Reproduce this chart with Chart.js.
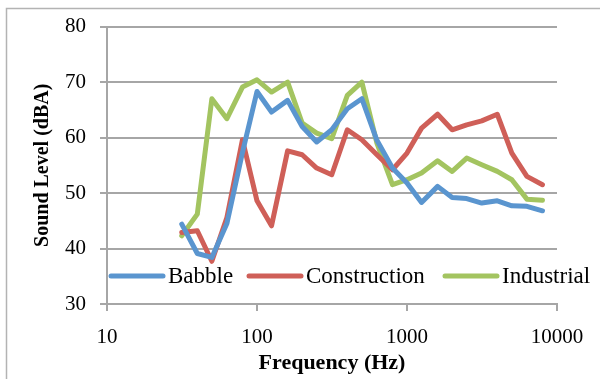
<!DOCTYPE html>
<html>
<head>
<meta charset="utf-8">
<script src="https://cdn.jsdelivr.net/npm/chart.js@4.4.0/dist/chart.umd.min.js"></script>
<style>
  html, body { margin: 0; padding: 0; background: #fff; }
  #wrap { position: relative; width: 600px; height: 379px; }
</style>
</head>
<body>
<div id="wrap"><canvas id="soundChart" width="600" height="379"></canvas></div>
<script>
// 1/3 octave band centre frequencies (Hz)
const frequencies = [31.5, 40, 50, 63, 80, 100, 125, 160, 200, 250, 315, 400, 500,
  630, 800, 1000, 1250, 1600, 2000, 2500, 3150, 4000, 5000, 6300, 8000];

const babble = [44.4, 39.1, 38.4, 44.5, 57.3, 68.3, 64.6, 66.7, 62.0, 59.2, 61.4, 65.2, 67.0,
  59.5, 54.5, 51.8, 48.3, 51.2, 49.2, 49.0, 48.2, 48.6, 47.7, 47.6, 46.8];
const construction = [42.9, 43.2, 37.7, 45.6, 59.6, 48.6, 44.1, 57.6, 56.9, 54.5, 53.3, 61.4, 59.6,
  56.9, 54.2, 57.2, 61.7, 64.2, 61.4, 62.3, 63.0, 64.2, 57.2, 53.0, 51.5];
const industrial = [42.3, 46.2, 67.0, 63.4, 69.1, 70.4, 68.2, 70.0, 62.6, 60.8, 59.8, 67.6, 70.0,
  59.0, 51.5, 52.4, 53.6, 55.8, 53.9, 56.3, 55.1, 53.9, 52.4, 48.9, 48.7];

const seriesNames = ['Babble', 'Construction', 'Industrial'];
const xTickValues = [10, 100, 1000, 10000];

const colors = ['#5a95cf', '#cf5f58', '#a3c460'];
const gridColor = '#a6a6a6';
const serif = '"Liberation Serif", "Times New Roman", serif';

function toPoints(values) {
  return frequencies.map((f, i) => ({ x: f, y: values[i] }));
}

// frame around the figure (only top & left edges visible)
const framePlugin = {
  id: 'frame',
  beforeDraw(chart) {
    const ctx = chart.ctx;
    ctx.save();
    ctx.strokeStyle = '#b3b3b3';
    ctx.lineWidth = 1.5;
    ctx.beginPath();
    ctx.moveTo(6.5, chart.height + 2);
    ctx.lineTo(6.5, 8.5);
    ctx.lineTo(chart.width + 2, 8.5);
    ctx.stroke();
    ctx.restore();
  }
};

// legend drawn inside the plot area along the bottom
const innerLegend = {
  id: 'innerLegend',
  afterDatasetsDraw(chart) {
    const ctx = chart.ctx;
    const area = chart.chartArea;
    const offsets = [2, 140, 336];
    const y = area.bottom - 28;
    ctx.save();
    ctx.font = '23px ' + serif;
    ctx.textBaseline = 'middle';
    chart.data.datasets.forEach((ds, i) => {
      const x0 = area.left + offsets[i];
      ctx.strokeStyle = ds.borderColor;
      ctx.lineWidth = 5;
      ctx.lineCap = 'round';
      ctx.beginPath();
      ctx.moveTo(x0 + 2, y);
      ctx.lineTo(x0 + 54, y);
      ctx.stroke();
      ctx.fillStyle = '#000';
      ctx.fillText(ds.label, x0 + 59, y + 1);
    });
    ctx.restore();
  }
};

new Chart(document.getElementById('soundChart'), {
  type: 'line',
  data: {
    datasets: [
      { label: seriesNames[0], data: toPoints(babble), borderColor: colors[0] },
      { label: seriesNames[1], data: toPoints(construction), borderColor: colors[1] },
      { label: seriesNames[2], data: toPoints(industrial), borderColor: colors[2] }
    ]
  },
  options: {
    responsive: false,
    animation: false,
    layout: { padding: { left: 0, top: 24, right: 43, bottom: 0 } },
    elements: {
      line: { borderWidth: 5, tension: 0, borderJoinStyle: 'round', borderCapStyle: 'round', fill: false },
      point: { radius: 0, hoverRadius: 0 }
    },
    scales: {
      x: {
        type: 'logarithmic',
        min: 10,
        max: 10000,
        afterBuildTicks: (scale) => { scale.ticks = xTickValues.map(v => ({ value: v })); },
        afterFit: (scale) => { scale.height = 75; },
        grid: { drawOnChartArea: false, drawTicks: true, tickLength: 7, color: gridColor, lineWidth: 2 },
        border: { display: true, color: gridColor, width: 2 },
        ticks: {
          color: '#000',
          padding: 14,
          maxRotation: 0,
          autoSkip: false,
          font: { family: serif, size: 21 },
          callback: (v) => String(v)
        },
        title: {
          display: true,
          text: 'Frequency (Hz)',
          color: '#000',
          padding: { top: 0, bottom: 2 },
          font: { family: serif, size: 22, weight: 'bold' }
        }
      },
      y: {
        min: 30,
        max: 80,
        afterFit: (scale) => { scale.width = 107; },
        grid: { color: gridColor, lineWidth: 2, tickLength: 7 },
        border: { display: true, color: gridColor, width: 2 },
        ticks: {
          stepSize: 10,
          color: '#000',
          padding: 14,
          font: { family: serif, size: 21 }
        },
        title: {
          display: true,
          text: 'Sound Level (dBA)',
          color: '#000',
          padding: { top: 31, bottom: 0 },
          font: { family: serif, size: 20, weight: 'bold' }
        }
      }
    },
    plugins: {
      legend: { display: false },
      tooltip: { enabled: false }
    }
  },
  plugins: [framePlugin, innerLegend]
});
</script>
</body>
</html>
